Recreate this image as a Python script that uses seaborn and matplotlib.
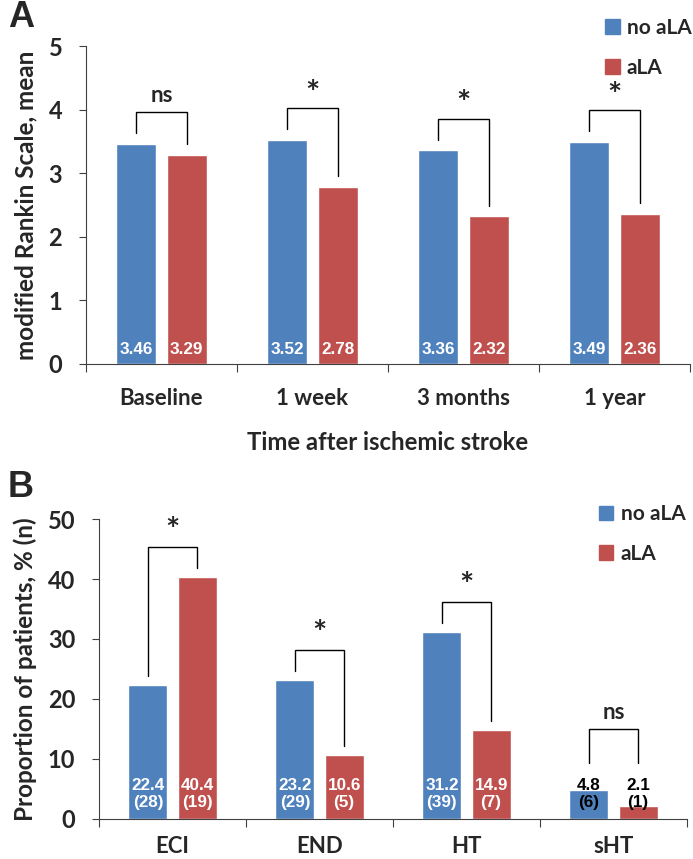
import numpy as np
import pandas as pd
import matplotlib
matplotlib.use('Agg')
import matplotlib.pyplot as plt
import seaborn as sns

# panel A: modified Rankin Scale over time
times = ['Baseline', '1 week', '3 months', '1 year']
mrs_no_ala = [3.46, 3.52, 3.36, 3.49]
mrs_ala = [3.29, 2.78, 2.32, 2.36]
sig_a = ['ns', '*', '*', '*']

# panel B: outcomes
outcomes = ['ECI', 'END', 'HT', 'sHT']
pct_no_ala = [22.4, 23.2, 31.2, 4.8]
pct_ala = [40.4, 10.6, 14.9, 2.1]
n_no_ala = [28, 29, 39, 6]
n_ala = [19, 5, 7, 1]
sig_b = ['*', '*', '*', 'ns']

groups = ['no aLA', 'aLA']
colors = ['#4F81BD', '#C0504D']

sns.set_style('white')
plt.rcParams['font.family'] = ['Lato', 'DejaVu Sans']
plt.rcParams['font.weight'] = 'bold'

BAR_W = 0.67
GAP = 0.21
AXC = '#404040'

fig = plt.figure(figsize=(6.93, 8.59), dpi=100)
ax_a = fig.add_axes([0.124, 0.5763, 0.8717, 0.3701])
ax_b = fig.add_axes([0.1429, 0.0466, 0.8484, 0.3492])


def style_axis(ax, cats, ymax, ystep, ylabel, xpad, ypad):
    sns.despine(ax=ax)
    ax.spines['left'].set_color(AXC)
    ax.spines['bottom'].set_color(AXC)
    ax.set_xlim(-0.5, len(cats) - 0.5)
    ax.set_ylim(0, ymax)
    ticks = np.arange(0, ymax + 0.01, ystep)
    ax.set_yticks(ticks)
    ax.set_yticklabels([f'{int(v)}' for v in ticks], fontsize=17,
                       fontweight='bold')
    ax.set_xticks(np.arange(len(cats) + 1) - 0.5)
    ax.set_xticklabels([])
    ax.set_xticks(np.arange(len(cats)), minor=True)
    ax.set_xticklabels(cats, minor=True, fontsize=16, fontweight='bold')
    ax.tick_params(axis='x', which='major', direction='out', length=6,
                   color=AXC, bottom=True)
    ax.tick_params(axis='x', which='minor', length=0, pad=xpad)
    ax.tick_params(axis='y', direction='out', length=5, color=AXC, left=True,
                   pad=12)
    ax.set_ylabel(ylabel, fontsize=17.5, fontweight='bold', labelpad=ypad)


def bracket(ax, i, y_left, y_right, top, text, tsize, tgap):
    xl = i - BAR_W / 4
    xr = i + BAR_W / 4
    ax.plot([xl, xl, xr, xr], [y_left, top, top, y_right], color='black',
            lw=1.0, solid_joinstyle='miter')
    ax.text(i, top + tgap, text, ha='center', va='center', fontsize=tsize,
            fontweight='bold')


# ---- Panel A
df_a = pd.DataFrame({
    'time': times * 2,
    'value': mrs_no_ala + mrs_ala,
    'group': [groups[0]] * 4 + [groups[1]] * 4,
})
sns.barplot(data=df_a, x='time', y='value', hue='group', hue_order=groups,
            palette=colors, width=BAR_W, gap=GAP, saturation=1, ax=ax_a,
            legend=False)
style_axis(ax_a, times, 5, 1, 'modified Rankin Scale, mean', 17, 8)
ax_a.set_xlabel('Time after ischemic stroke', fontsize=17.2,
                fontweight='bold', labelpad=16)

for i in range(len(times)):
    for v, dx in ((mrs_no_ala[i], -BAR_W / 4), (mrs_ala[i], BAR_W / 4)):
        ax_a.text(i + dx, 0.22, f'{v:.2f}', ha='center', va='center',
                  color='white', fontsize=12.3, fontweight='bold',
                  family='Liberation Sans')
    top = max(mrs_no_ala[i], mrs_ala[i]) + 0.5
    is_ns = sig_a[i] == 'ns'
    bracket(ax_a, i, mrs_no_ala[i] + 0.17, mrs_ala[i] + 0.17, top, sig_a[i],
            16 if is_ns else 24, 0.27 if is_ns else 0.22)

# ---- Panel B
df_b = pd.DataFrame({
    'outcome': outcomes * 2,
    'value': pct_no_ala + pct_ala,
    'group': [groups[0]] * 4 + [groups[1]] * 4,
})
sns.barplot(data=df_b, x='outcome', y='value', hue='group', hue_order=groups,
            palette=colors, width=BAR_W, gap=GAP, saturation=1, ax=ax_b,
            legend=False)
style_axis(ax_b, outcomes, 50, 10, 'Proportion of patients, % (n)', 12, 8)
ax_b.set_xlabel('')

for i in range(len(outcomes)):
    small = max(pct_no_ala[i], pct_ala[i]) < 8
    tcol = 'black' if small else 'white'
    for v, n, dx in ((pct_no_ala[i], n_no_ala[i], -BAR_W / 4),
                     (pct_ala[i], n_ala[i], BAR_W / 4)):
        ax_b.text(i + dx, 4.2, f'{v:.1f}\n({n})', ha='center', va='center',
                  color=tcol, fontsize=12.3, fontweight='bold',
                  family='Liberation Sans', linespacing=1.15)
    top = max(max(pct_no_ala[i], pct_ala[i]) + 5, 15)
    yl = max(pct_no_ala[i] + 1.5, 9.3)
    yr = max(pct_ala[i] + 1.5, 9.3)
    is_ns = sig_b[i] == 'ns'
    bracket(ax_b, i, yl, yr, top, sig_b[i], 16 if is_ns else 24,
            2.8 if is_ns else 2.6)

# legends
handles = [plt.Rectangle((0, 0), 1, 1, color=c) for c in colors]
for anchor in ((0.873, 0.979), (0.864, 0.413)):
    fig.legend(handles, groups, loc='upper left', bbox_to_anchor=anchor,
               frameon=False, prop={'size': 15, 'weight': 'bold'},
               handlelength=0.7, handleheight=0.7, handletextpad=0.35,
               labelspacing=0.95, borderpad=0, borderaxespad=0)

fig.text(0.011, 0.980, 'A', fontsize=26, fontweight='bold', va='center',
         family='Liberation Sans')
fig.text(0.011, 0.433, 'B', fontsize=26, fontweight='bold', va='center',
         family='Liberation Sans')

fig.savefig('out.png', dpi=100)
